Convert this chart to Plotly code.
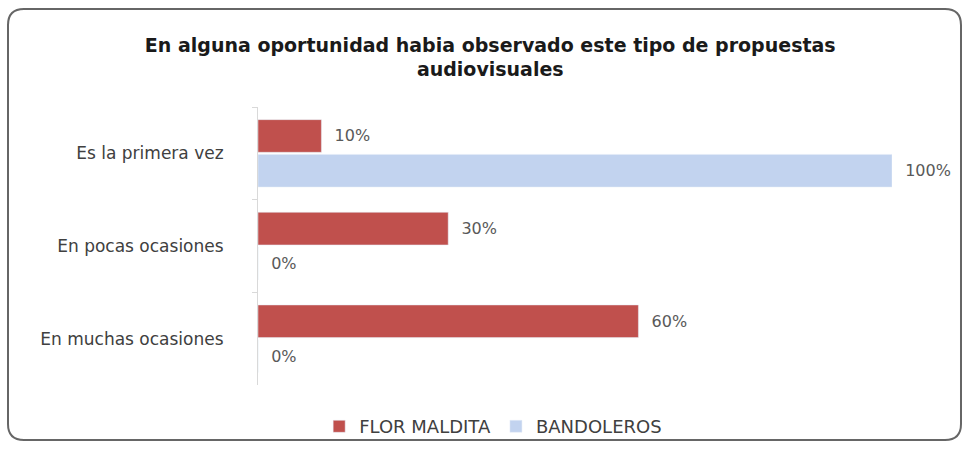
import plotly.graph_objects as go

# Survey answers (percent of respondents)
categories = ["Es la primera vez", "En pocas ocasiones", "En muchas ocasiones"]
flor_maldita = [10, 30, 60]
bandoleros = [100, 0, 0]
series_names = ["FLOR MALDITA", "BANDOLEROS"]

title_text = ("En alguna oportunidad habia observado este tipo de propuestas"
              "<br>audiovisuales")

W, H = 967, 450
L, R, T, B = 258, 75, 107, 65
FONT = "DejaVu Sans"

fig = go.Figure()
fig.add_trace(go.Bar(
    y=categories, x=flor_maldita, name=series_names[0], orientation="h",
    marker=dict(color="#c0504d"),
    texttemplate="  %{x}%", textposition="outside", cliponaxis=False,
    textfont=dict(color="#595959", size=16, family=FONT),
))
fig.add_trace(go.Bar(
    y=categories, x=bandoleros, name=series_names[1], orientation="h",
    marker=dict(color="#c2d3ef"),
    texttemplate="  %{x}%", textposition="outside", cliponaxis=False,
    textfont=dict(color="#595959", size=16, family=FONT),
))


def to_paper(px, py):
    return (px - L) / (W - L - R), (H - B - py) / (H - T - B)


def rounded_rect(x0, y0, x1, y1, r):
    pts = [
        ("M", [(x0 + r, y0)]),
        ("L", [(x1 - r, y0)]),
        ("Q", [(x1, y0), (x1, y0 + r)]),
        ("L", [(x1, y1 - r)]),
        ("Q", [(x1, y1), (x1 - r, y1)]),
        ("L", [(x0 + r, y1)]),
        ("Q", [(x0, y1), (x0, y1 - r)]),
        ("L", [(x0, y0 + r)]),
        ("Q", [(x0, y0), (x0 + r, y0)]),
    ]
    parts = []
    for cmd, coords in pts:
        c = " ".join("%.5f,%.5f" % to_paper(px, py) for px, py in coords)
        parts.append(cmd + " " + c)
    return " ".join(parts) + " Z"


fig.update_layout(
    width=W, height=H,
    margin=dict(l=L, r=R, t=T, b=B, autoexpand=False),
    paper_bgcolor="white", plot_bgcolor="white",
    barmode="group", bargap=0.25, bargroupgap=0.06,
    font=dict(family=FONT, color="#404040"),
    title=dict(
        text=title_text, x=0.507, xanchor="center", y=0.885, yanchor="middle",
        font=dict(family=FONT, size=19, color="#1a1a1a", weight="bold"),
    ),
    showlegend=True,
    legend=dict(
        orientation="h", xref="container", x=0.51, xanchor="center",
        yref="container", y=0.052, yanchor="middle",
        font=dict(size=18, color="#404040", family=FONT),
        traceorder="normal", itemwidth=30, bgcolor="rgba(0,0,0,0)",
    ),
    xaxis=dict(
        range=[0, 100], showgrid=False, zeroline=False, showticklabels=False,
        showline=False, ticks="",
    ),
    yaxis=dict(
        autorange="reversed", showgrid=False, zeroline=False,
        showline=True, linecolor="#d9d9d9", linewidth=1,
        ticks="outside", tickson="boundaries", ticklen=5, tickcolor="#d9d9d9",
        tickfont=dict(size=17, color="#404040", family=FONT),
        ticklabelstandoff=30,
    ),
    shapes=[dict(
        type="path", xref="paper", yref="paper",
        path=rounded_rect(8, 9, 961, 440, 16),
        line=dict(color="#666666", width=2), layer="below",
    )],
)

fig.write_html("out.html")
